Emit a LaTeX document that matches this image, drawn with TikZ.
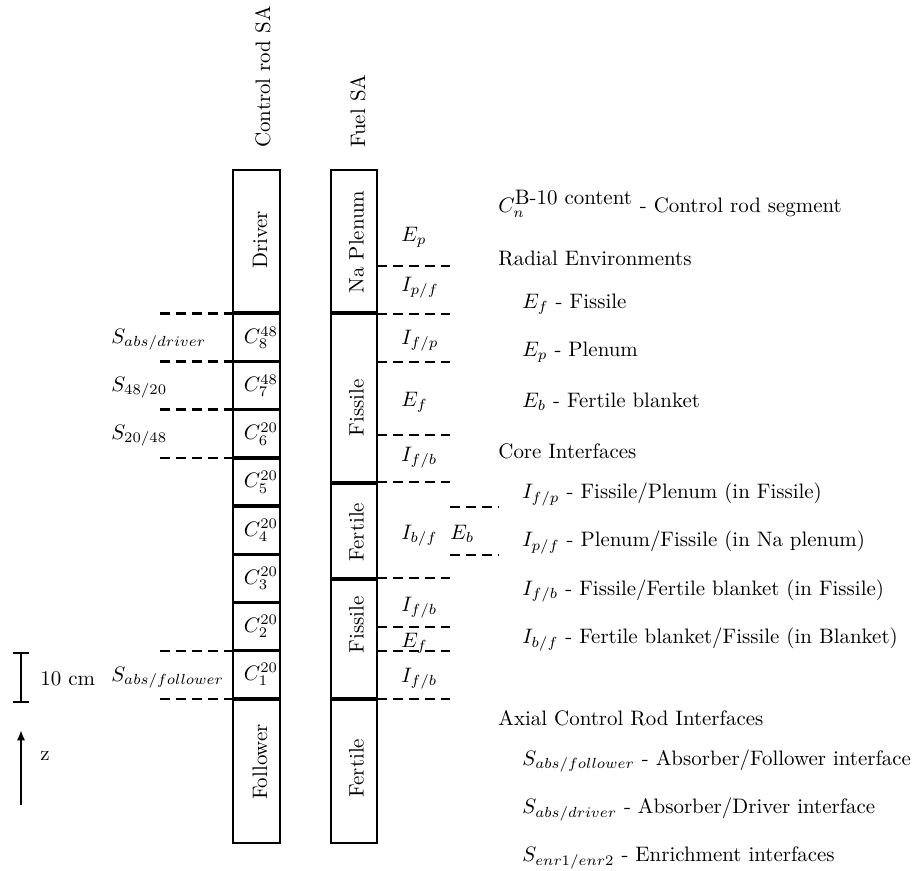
\documentclass[tikz,border=0pt]{standalone}
\usetikzlibrary{arrows.meta}
\begin{document}
\begin{tikzpicture}[x=0.478pt,y=-0.478pt,
  seg/.style={draw,line width=1pt,minimum width=22.2pt,inner sep=0pt},
  dsh/.style={line width=1pt,dash pattern=on 4.8pt off 2.8pt},
  lab/.style={inner sep=0pt,anchor=base west},
  clab/.style={inner sep=0pt},
  vlab/.style={rotate=90,inner sep=0pt,anchor=base},
  bar/.style={line width=1pt}]
\useasboundingbox (0,0) rectangle (919,871);

% column headings
\node[rotate=90,inner sep=0pt,anchor=base west] (hcr) at (270,148) {Control rod SA};
\node[rotate=90,inner sep=0pt,anchor=base west] (hfu) at (365,148) {Fuel SA};

% control rod column
\node[seg,minimum height=68.1pt] (driver) at (256.5,241.3) {};
\node[seg,minimum height=22.5pt] (c8) at (256.5,337.7) {};
\node[seg,minimum height=22.5pt] (c7) at (256.5,385.8) {};
\node[seg,minimum height=22.5pt] (c6) at (256.5,433.9) {};
\node[seg,minimum height=22.5pt] (c5) at (256.5,482.0) {};
\node[seg,minimum height=22.5pt] (c4) at (256.5,530.1) {};
\node[seg,minimum height=22.5pt] (c3) at (256.5,578.2) {};
\node[seg,minimum height=22.5pt] (c2) at (256.5,626.3) {};
\node[seg,minimum height=22.5pt] (c1) at (256.5,674.4) {};
\node[seg,minimum height=68.4pt] (follower) at (256.5,771.5) {};

\node[vlab] (tdriver) at (267,240) {Driver};
\node[vlab] (tfollower) at (267,762) {Follower};
\node[clab] (t8) at (261,337.7) {$C_8^{48}$};
\node[clab] (t7) at (261,385.8) {$C_7^{48}$};
\node[clab] (t6) at (261,433.9) {$C_6^{20}$};
\node[clab] (t5) at (261,482.0) {$C_5^{20}$};
\node[clab] (t4) at (261,530.1) {$C_4^{20}$};
\node[clab] (t3) at (261,578.2) {$C_3^{20}$};
\node[clab] (t2) at (261,626.3) {$C_2^{20}$};
\node[clab] (t1) at (261,674.4) {$C_1^{20}$};

% fuel column
\node[seg,minimum height=68.1pt] (plenum) at (354,241.3) {};
\node[seg,minimum height=80.3pt] (fis1) at (354,398) {};
\node[seg,minimum height=44.9pt] (fer1) at (354,531) {};
\node[seg,minimum height=56.4pt] (fis2) at (354,639) {};
\node[seg,minimum height=68.4pt] (fer2) at (354,771.5) {};

\node[vlab] (tplenum) at (363.5,242) {Na Plenum};
\node[vlab] (tfis1) at (363.5,408) {Fissile};
\node[vlab] (tfer1) at (363.5,532) {Fertile};
\node[vlab] (tfis2) at (363.5,625) {Fissile};
\node[vlab] (tfer2) at (363.5,768) {Fertile};

% control rod interfaces (dashed)
\foreach \y in {313.5,361.5,409.5,458,651,699}
  \draw[dsh] (160,\y) -- (233,\y);
\node[lab] (sad) at (111,343) {$S_{abs/driver}$};
\node[lab] (s4820) at (111,391) {$S_{48/20}$};
\node[lab] (s2048) at (111,439) {$S_{20/48}$};
\node[lab] (saf) at (111,681) {$S_{abs/follower}$};

% fuel interfaces (dashed)
\foreach \y in {266,314,362,435,482,578,627,651,699}
  \draw[dsh] (377,\y) -- (450,\y);
\foreach \y in {507,555}
  \draw[dsh] (450,\y) -- (498,\y);
\node[lab] (ep) at (401,241) {$E_p$};
\node[lab] (ipf) at (401,291) {$I_{p/f}$};
\node[lab] (ifp) at (401,344) {$I_{f/p}$};
\node[lab] (ef1) at (401,406) {$E_f$};
\node[lab] (ifb1) at (401,461) {$I_{f/b}$};
\node[lab] (ibf) at (401,539) {$I_{b/f}$};
\node[lab] (eb) at (450,539) {$E_b$};
\node[lab] (ifb2) at (401,611) {$I_{f/b}$};
\node[lab] (ef2) at (401,647) {$E_f$};
\node[lab] (ifb3) at (401,682) {$I_{f/b}$};

% scale bar and axis
\coordinate (bt) at (21,653);
\coordinate (bb) at (21,702);
\draw[bar] (bt) -- (bb);
\draw[bar] (13,653) -- (29,653);
\draw[bar] (13,702) -- (29,702);
\node[lab] (tencm) at (40,685) {10 cm};
\coordinate (za) at (21,805);
\coordinate (zb) at (21,730);
\draw[bar,-{Latex[length=5pt,width=4pt]}] (za) -- (zb);
\node[lab] (tz) at (40,760) {z};

% legend
\node[lab] (l1) at (498,212.5) {$C_n^{\mbox{B-10 content}}$ - Control rod segment};
\node[lab] (l2) at (498,265) {Radial Environments};
\node[lab] (l3) at (522,308.3) {$E_f$ - Fissile};
\node[lab] (l4) at (522,356.7) {$E_p$ - Plenum};
\node[lab] (l5) at (522,407.7) {$E_b$ - Fertile blanket};
\node[lab] (l6) at (498,458.3) {Core Interfaces};
\node[lab] (l7) at (522,498.3) {$I_{f/p}$ - Fissile/Plenum (in Fissile)};
\node[lab] (l8) at (522,546.7) {$I_{p/f}$ - Plenum/Fissile (in Na plenum)};
\node[lab] (l9) at (522,595) {$I_{f/b}$ - Fissile/Fertile blanket (in Fissile)};
\node[lab] (l10) at (522,643.3) {$I_{b/f}$ - Fertile blanket/Fissile (in Blanket)};
\node[lab] (l11) at (498,725) {Axial Control Rod Interfaces};
\node[lab] (l12) at (522,765) {$S_{abs/follower}$ - Absorber/Follower interface};
\node[lab] (l13) at (522,813.3) {$S_{abs/driver}$ - Absorber/Driver interface};
\node[lab] (l14) at (522,861.7) {$S_{enr1/enr2}$ - Enrichment interfaces};
\end{tikzpicture}
\end{document}
